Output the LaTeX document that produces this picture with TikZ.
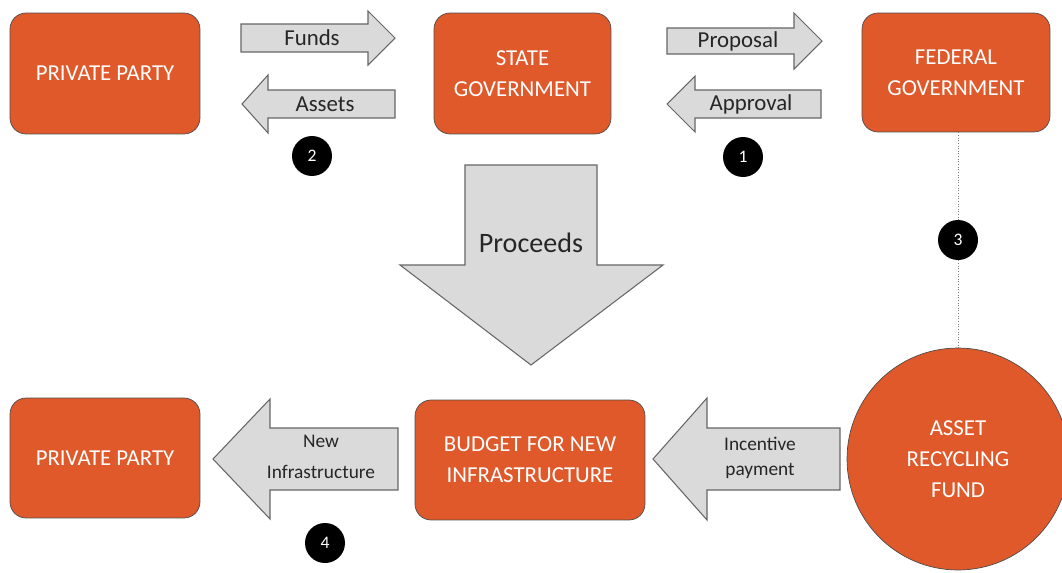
\documentclass[tikz,border=0pt]{standalone}
\usepackage{fontspec}
\setmainfont{Carlito}
\usepackage{tikz}
\usetikzlibrary{positioning}
\definecolor{myorange}{HTML}{E0592A}
\definecolor{mygray}{HTML}{DADADA}
\tikzset{
	boxnode/.style={
			rectangle,
			rounded corners=0.32cm,
			draw=black!70,
			fill=myorange,
			text=white,
			align=center,
			minimum width=3.8cm,
			minimum height=2.42cm,
			inner sep=0pt,
			font=\fontsize{13}{17.5}\selectfont
		},
	fundnode/.style={
			boxnode,
			circle,
			minimum size=4.44cm
		},
	numnode/.style={
			circle,
			fill=black,
			text=white,
			minimum size=0.8cm,
			inner sep=0pt,
			font=\fontsize{10}{12}\selectfont
		},
	blockarrow/.style={
			draw=black!60,
			fill=mygray,
			line width=0.6pt,
			line join=miter
		},
	arrowlabel/.style={
			align=center,
			text=black!85,
			inner sep=0pt,
			font=\fontsize{13}{15}\selectfont
		},
	smalllabel/.style={
			arrowlabel,
			font=\fontsize{11}{18}\selectfont
		},
	linkline/.style={
			draw=black!50,
			densely dotted,
			line width=0.5pt
		}
}
% tail x, tip x, y, half body, half head, head length
\newcommand{\blockarrow}[6]{%
  \draw[blockarrow] (#1,#3-#4) -- ({#2-(#6)},#3-#4) -- ({#2-(#6)},#3-#5) -- (#2,#3)
    -- ({#2-(#6)},#3+#5) -- ({#2-(#6)},#3+#4) -- (#1,#3+#4) -- cycle;}

\begin{document}
\begin{tikzpicture}[x=0.02cm, y=-0.02cm]
\useasboundingbox (0,0) rectangle (1062,572);

\node[boxnode] (party1) at (105,73.5) {PRIVATE PARTY};
\node[boxnode, minimum width=3.54cm] (state) at (522.5,73.5) {STATE\\GOVERNMENT};
\node[boxnode, minimum width=3.76cm, minimum height=2.38cm] (federal) at (956,72.5) {FEDERAL\\GOVERNMENT};
\node[boxnode, minimum height=2.4cm] (party2) at (105,458) {PRIVATE PARTY};
\node[boxnode, minimum width=4.6cm, minimum height=2.4cm] (budget) at (530,460) {BUDGET FOR NEW\\INFRASTRUCTURE};
\node[fundnode] (fund) at (958,459) {ASSET\\RECYCLING\\FUND};

\blockarrow{241}{395}{38}{14}{27}{27}
\blockarrow{395}{242}{104}{14}{29}{-26}
\blockarrow{667}{822}{41}{13}{28}{28}
\blockarrow{821}{667}{104}{14}{28}{-28}
\blockarrow{398}{213}{459}{31}{60}{-57}
\blockarrow{840}{653}{459}{31}{61}{-54}
\draw[blockarrow] (465,165) -- (597,165) -- (597,265) -- (663,265) -- (531,365)
  -- (400,265) -- (465,265) -- cycle;

\node[arrowlabel] (funds) at (312,38) {Funds};
\node[arrowlabel] (assets) at (325,104) {Assets};
\node[arrowlabel] (proposal) at (738,41) {Proposal};
\node[arrowlabel] (approval) at (751,104) {Approval};
\node[arrowlabel, font=\fontsize{16}{18}\selectfont] (proceeds) at (531,243) {Proceeds};
\node[smalllabel] (newinfra) at (321,457) {New\\Infrastructure};
\node[smalllabel, font=\fontsize{11}{14.5}\selectfont] (incentive) at (760,458) {Incentive\\payment};

\node[numnode] (n1) at (743,157) {1};
\node[numnode] (n2) at (312,156) {2};
\node[numnode] (n3) at (958,240) {3};
\node[numnode] (n4) at (325,543) {4};

\draw[linkline] (federal.south -| n3) -- (n3);
\draw[linkline] (n3) -- (fund);

\end{tikzpicture}
\end{document}
